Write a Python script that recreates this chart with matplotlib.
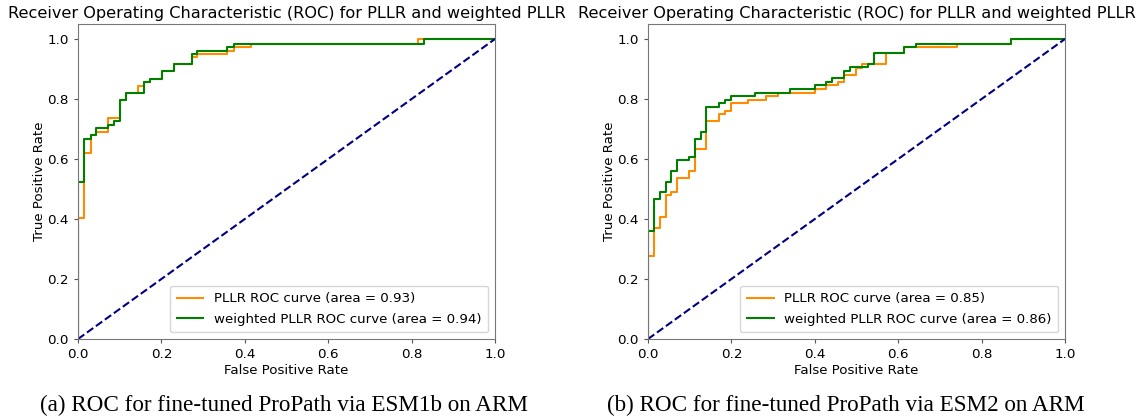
import matplotlib
matplotlib.use("Agg")
import matplotlib.pyplot as plt

# ROC step points (fpr where tpr jumps, tpr after jump)
esm1b_pllr_fpr = [0.0, 0.0, 0.0137, 0.030, 0.044, 0.072, 0.100, 0.114, 0.144,
                  0.158, 0.172, 0.201, 0.230, 0.273, 0.286, 0.358, 0.373,
                  0.416, 0.815, 1.0]
esm1b_pllr_tpr = [0.0, 0.405, 0.619, 0.680, 0.691, 0.738, 0.797, 0.821, 0.844,
                  0.856, 0.867, 0.892, 0.917, 0.939, 0.950, 0.961, 0.972,
                  0.985, 1.0, 1.0]
esm1b_weighted_fpr = [0.0, 0.0, 0.0137, 0.030, 0.044, 0.072, 0.086, 0.100,
                      0.114, 0.158, 0.172, 0.201, 0.230, 0.273, 0.286, 0.358,
                      0.373, 0.830, 1.0]
esm1b_weighted_tpr = [0.0, 0.524, 0.667, 0.680, 0.702, 0.713, 0.728, 0.797,
                      0.821, 0.856, 0.867, 0.892, 0.917, 0.950, 0.961, 0.972,
                      0.985, 1.0, 1.0]

esm2_pllr_fpr = [0.0, 0.0, 0.0137, 0.028, 0.042, 0.056, 0.070, 0.098, 0.112,
                 0.140, 0.170, 0.184, 0.198, 0.241, 0.284, 0.312, 0.400,
                 0.428, 0.456, 0.470, 0.498, 0.512, 0.570, 0.613, 0.741,
                 0.871, 1.0]
esm2_pllr_tpr = [0.0, 0.277, 0.371, 0.408, 0.480, 0.491, 0.536, 0.560, 0.632,
                 0.728, 0.749, 0.761, 0.786, 0.797, 0.809, 0.821, 0.833,
                 0.846, 0.858, 0.880, 0.903, 0.917, 0.952, 0.972, 0.985,
                 1.0, 1.0]
esm2_weighted_fpr = [0.0, 0.0, 0.0137, 0.028, 0.042, 0.056, 0.070, 0.098,
                     0.112, 0.126, 0.140, 0.170, 0.184, 0.198, 0.256, 0.341,
                     0.400, 0.428, 0.442, 0.470, 0.484, 0.528, 0.541, 0.613,
                     0.642, 0.871, 1.0]
esm2_weighted_tpr = [0.0, 0.361, 0.467, 0.491, 0.524, 0.560, 0.597, 0.608,
                     0.667, 0.691, 0.772, 0.786, 0.797, 0.809, 0.821, 0.832,
                     0.846, 0.858, 0.869, 0.894, 0.906, 0.917, 0.952, 0.972,
                     0.985, 1.0, 1.0]

panels = [
    {"pllr": (esm1b_pllr_fpr, esm1b_pllr_tpr),
     "weighted": (esm1b_weighted_fpr, esm1b_weighted_tpr),
     "auc": (0.93, 0.94),
     "caption": "(a) ROC for fine-tuned ProPath via ESM1b on ARM"},
    {"pllr": (esm2_pllr_fpr, esm2_pllr_tpr),
     "weighted": (esm2_weighted_fpr, esm2_weighted_tpr),
     "auc": (0.85, 0.86),
     "caption": "(b) ROC for fine-tuned ProPath via ESM2 on ARM"},
]

title = "Receiver Operating Characteristic (ROC) for PLLR and weighted PLLR"

fig = plt.figure(figsize=(11.4, 4.18), dpi=100)
lefts = [78 / 1140, 648 / 1140]
caption_x = [0.2495, 0.742]

for i, panel in enumerate(panels):
    ax = fig.add_axes([lefts[i], 79 / 418, 417 / 1140, 315 / 418])
    fpr, tpr = panel["pllr"]
    ax.step(fpr, tpr, where="post", color="darkorange", lw=1.5,
            label=f"PLLR ROC curve (area = {panel['auc'][0]:.2f})")
    fpr, tpr = panel["weighted"]
    ax.step(fpr, tpr, where="post", color="green", lw=1.5,
            label=f"weighted PLLR ROC curve (area = {panel['auc'][1]:.2f})")
    ax.plot([0, 1], [0, 1], color="navy", lw=1.5, linestyle="--")
    ax.set_xlim(0.0, 1.0)
    ax.set_ylim(0.0, 1.05)
    ax.set_xticks([0.0, 0.2, 0.4, 0.6, 0.8, 1.0])
    ax.set_yticks([0.0, 0.2, 0.4, 0.6, 0.8, 1.0])
    ax.tick_params(labelsize=9.7, length=3, color="#555555")
    ax.set_xlabel("False Positive Rate", fontsize=9.6, labelpad=2)
    ax.set_ylabel("True Positive Rate", fontsize=9.6, labelpad=1)
    ax.set_title(title, fontsize=11.6, pad=4)
    for sp in ax.spines.values():
        sp.set_color("#777777")
    ax.legend(loc="lower right", fontsize=9.6, handlelength=2.0,
              borderpad=0.5, labelspacing=0.55)
    fig.text(caption_x[i], 0.031, panel["caption"], ha="center",
             va="center", family="Liberation Serif", fontsize=16.7)

fig.savefig("out.png", dpi=100)
